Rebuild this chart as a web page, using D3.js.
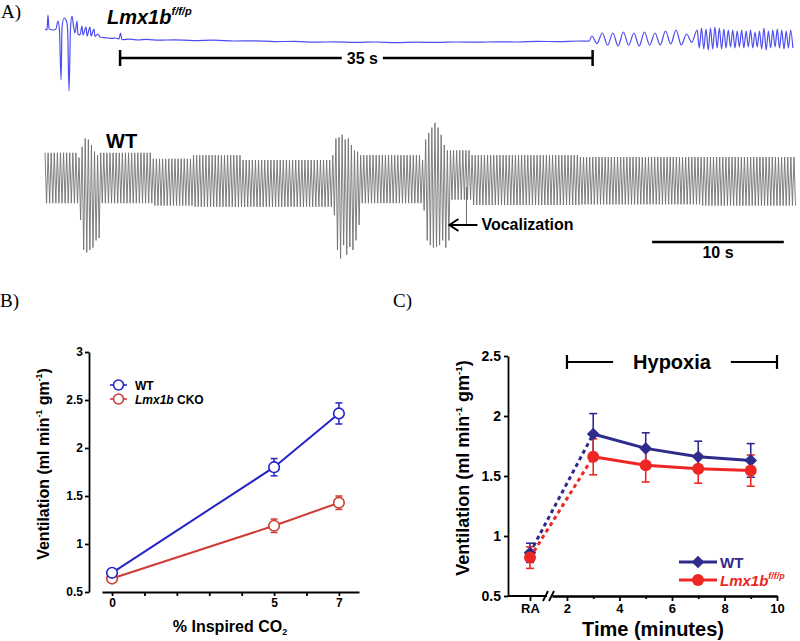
<!DOCTYPE html>
<html>
<head>
<meta charset="utf-8">
<script src="https://cdn.jsdelivr.net/npm/d3@7"></script>
<style>
body { margin: 0; background: #fff; }
svg { display: block; font-family: 'Liberation Sans', Arial, sans-serif; }
.axis path, .axis line { stroke: #000; stroke-width: 1.8; }
.axis text { font-family: 'Liberation Sans', Arial, sans-serif; font-weight: bold; fill: #000; }
.panelLabel { font-family: 'Liberation Serif', 'DejaVu Serif', serif; font-size: 19px; }
</style>
</head>
<body>
<svg width="800" height="641"></svg>
<script>
// ---------- panel A : pleth traces ----------
// WT trace, one entry per group of breaths: [breaths, peak, trough] (a.u.)
const wtBreath = 0.235   // s per breath
const wtSegments = [
  [11, 2.1, -2.1],
  [1, 1.7, -3.5], [1, 2.6, -6.0], [1, 3.3, -6.2], [1, 3.2, -6.0], [1, 2.75, -5.8], [1, 2.2, -5.2], [1, 1.9, -5.0],
  [17, 2.1, -2.1],
  [13, 1.6, -2.3],
  [16, 1.9, -2.4],
  [29, 1.5, -2.4],
  [1, 1.9, -3.1], [1, 3.3, -6.0], [1, 3.4, -6.7], [1, 3.6, -5.6], [1, 3.2, -6.4], [1, 3.3, -5.75], [1, 2.75, -6.0], [1, 2.3, -5.2], [1, 2.2, -3.9],
  [20, 1.9, -2.1],
  [1, 1.5, -2.7], [1, 3.2, -5.2], [1, 3.75, -5.6], [1, 4.2, -5.8], [1, 4.6, -5.75], [1, 4.2, -5.6], [1, 3.6, -5.2], [1, 2.75, -5.8], [1, 2.3, -5.2],
  [7, 2.3, -1.8],
  [35, 1.9, -2.25],
  [39, 1.75, -2.2],
  [31, 1.75, -2.3]
]
const wtScaleBar = [46.1, 56.1]   // 10 s
const vocalizationAt = 32.0

// Lmx1b trace: gasps + apnea as [time s, value a.u.]
const lmxApnea = [[0,2.75],[0.15,2.5],[0.22,6.25],[0.3,2.75],[0.59,2.5],[0.81,2.75],[0.96,4.75],[1.07,2.5],
  [1.19,-10],[1.26,3],[1.41,5.5],[1.56,5],[1.67,3],[1.78,-12.75],[1.89,3],[2.0,6],[2.11,3.5],[2.22,1.75],
  [2.37,4.75],[2.44,1.5],[2.59,1.25],[2.74,3.5],[2.81,1.25],[3.04,3.25],[3.11,1],[3.33,3.25],[3.41,1],
  [3.63,2.75],[3.7,0.9],[3.93,1.5],[4.07,0.75],[4.37,0.6],[4.67,0.5],[4.96,0.4],[5.26,0.5],[5.48,0.25],
  [5.59,1.75],[5.7,0.1],[6.3,0.2],[6.9,0],[7.5,0.15],[8.5,-0.05],[9.5,0.05],[11,-0.15],[12.5,-0.05],
  [14,-0.25],[15.5,-0.2],[17,-0.4],[18.5,-0.35],[20,-0.55],[21.5,-0.45],[23,-0.6],[24.5,-0.5],[26,-0.65],
  [27.5,-0.55],[29,-0.6],[30.5,-0.5],[32,-0.55],[33.5,-0.45],[35,-0.5],[36.5,-0.35],[38,-0.4],[39.5,-0.25],[40.3,-0.3]]
const lmxOscStart = 40.5
const lmxSlowPeriod = 0.78
const lmxSlowTop = [1.0, 1.75, 1.75, 2.0, 1.75, 2.0, 1.75, 2.25, 2.5, 1.5]
const lmxSlowBottom = [-0.9, -1.3, -1.5, -1.3, -1.5, -1.3, -1.25, -1.0, -1.25, -0.6]
const lmxFastPeriod = 0.33
const lmxFastTop = [2.5, 3.0, 2.75, 3.0, 3.25, 3.0, 2.75, 2.5, 2.5, 2.25, 2.5, 2.25, 2.5, 2.0, 2.25, 3.0, 2.25, 2.5, 2.75, 2.5, 2.25, 2.5]
const lmxFastBottom = [-2.0, -2.25, -2.5, -2.25, -2.0, -2.25, -2.0, -1.75, -2.0, -1.75, -2.0, -1.75, -2.0, -1.75, -2.25, -2.5, -2.0, -1.75, -2.0, -2.25, -2.0, -2.0]
const lmxScaleBar = [5.56, 40.56]  // 35 s

// ---------- panel B : CO2 response ----------
const co2Levels = [0, 5, 7]
const bWT = [0.70, 1.80, 2.36]
const bWTerr = [0.02, 0.09, 0.11]
const bCKO = [0.64, 1.19, 1.43]
const bCKOerr = [0.02, 0.07, 0.07]
const bYTicks = [0.5, 1, 1.5, 2, 2.5, 3]
const bXTicks = [0, 1, 2, 3, 4, 5, 6, 7]
const bXLabels = [0, 5, 7]

// ---------- panel C : hypoxia ----------
const hypTimes = [3, 5, 7, 9]
const cWT = [1.85, 1.73, 1.66, 1.63]
const cWTerr = [0.17, 0.13, 0.13, 0.14]
const cWTra = 0.86, cWTraErr = 0.08
const cLmx = [1.66, 1.59, 1.56, 1.545]
const cLmxErr = [0.15, 0.14, 0.12, 0.13]
const cLmxRa = 0.82, cLmxRaErr = 0.09
const cYTicks = [0.5, 1, 1.5, 2, 2.5]
const cXTicks = [2, 4, 6, 8, 10]
const cXMinor = [3, 5, 7, 9]
const hypoxiaRange = [2, 10]

const navy = '#2e2b8c'
const redC = '#ee2724'
const blueB = '#2424c6'
const redB = '#cf3b35'

let svg = d3.select('svg')

function dibujarA(){
    svg.append('text').attr('class','panelLabel').attr('x', 1).attr('y', 18).text('A)')

    // Lmx1b trace
    let xL = d3.scaleLinear().domain([0, 55.7]).range([45, 797])
    let yL = d3.scaleLinear().domain([-13, 5]).range([92, 20])
    let pts = lmxApnea.slice()
    let t = lmxOscStart
    lmxSlowTop.forEach((top, i) => {
        pts.push([t, top]); pts.push([t + lmxSlowPeriod/2, lmxSlowBottom[i]]); t += lmxSlowPeriod
    })
    lmxFastTop.forEach((top, i) => {
        pts.push([t, top]); pts.push([t + lmxFastPeriod/2, lmxFastBottom[i]]); t += lmxFastPeriod
    })
    svg.append('path')
       .attr('d', d3.line().x(d => xL(d[0])).y(d => yL(d[1])).curve(d3.curveMonotoneX)(pts))
       .attr('fill','none').attr('stroke','#4d4df2').attr('stroke-width', 1.2)

    let lt = svg.append('text').attr('x', 107).attr('y', 24)
        .attr('font-size', 20).attr('font-weight','bold').attr('font-style','italic')
    lt.append('tspan').text('Lmx1b')
    lt.append('tspan').attr('font-size', 11).attr('dy', -9).text('f/f/p')

    // 35 s bar
    let b0 = xL(lmxScaleBar[0]), b1 = xL(lmxScaleBar[1]), by = 58
    let txt35 = svg.append('text').attr('x', (b0+b1)/2 + 6).attr('y', by + 6)
        .attr('text-anchor','middle').attr('font-size', 16).attr('font-weight','bold').text('35 s')
    let half = txt35.node().getComputedTextLength()/2 + 5
    let bar = svg.append('g').attr('stroke','#000').attr('stroke-width', 2.5)
    bar.append('line').attr('x1', b0).attr('x2', (b0+b1)/2 + 6 - half).attr('y1', by).attr('y2', by)
    bar.append('line').attr('x1', (b0+b1)/2 + 6 + half).attr('x2', b1).attr('y1', by).attr('y2', by)
    bar.append('line').attr('x1', b0).attr('x2', b0).attr('y1', by-8).attr('y2', by+8)
    bar.append('line').attr('x1', b1).attr('x2', b1).attr('y1', by-8).attr('y2', by+8)

    // WT trace
    let xW = d3.scaleLinear().domain([0, 57.1]).range([45, 797])
    let yW = d3.scaleLinear().domain([-8, 5]).range([274, 118])
    let wpts = []
    t = 0
    wtSegments.forEach(s => {
        for (let i = 0; i < s[0]; i++){
            wpts.push([t, s[1]]); wpts.push([t + wtBreath/2, s[2]]); t += wtBreath
        }
    })
    svg.append('path')
       .attr('d', d3.line().x(d => xW(d[0])).y(d => yW(d[1]))(wpts))
       .attr('fill','none').attr('stroke','#707070').attr('stroke-width', 0.9)

    svg.append('text').attr('x', 106).attr('y', 148)
       .attr('font-size', 20).attr('font-weight','bold').text('WT')

    // vocalization arrow
    let vx = xW(vocalizationAt), ay = 225
    svg.append('line').attr('x1', vx).attr('x2', vx).attr('y1', 187).attr('y2', ay)
       .attr('stroke','#666').attr('stroke-width', 1)
    svg.append('line').attr('x1', vx - 17).attr('x2', vx + 11).attr('y1', ay).attr('y2', ay)
       .attr('stroke','#000').attr('stroke-width', 2)
    svg.append('path').attr('d', `M${vx-8},${ay-6}L${vx-17},${ay}L${vx-8},${ay+6}`)
       .attr('fill','none').attr('stroke','#000').attr('stroke-width', 2)
    svg.append('text').attr('x', vx + 15).attr('y', ay + 5)
       .attr('font-size', 16).attr('font-weight','bold').text('Vocalization')

    // 10 s bar
    svg.append('line').attr('x1', xW(wtScaleBar[0])).attr('x2', xW(wtScaleBar[1]))
       .attr('y1', 242).attr('y2', 242).attr('stroke','#000').attr('stroke-width', 2.5)
    svg.append('text').attr('x', (xW(wtScaleBar[0]) + xW(wtScaleBar[1]))/2).attr('y', 258)
       .attr('text-anchor','middle').attr('font-size', 16).attr('font-weight','bold').text('10 s')
}

function ventLabel(sel){
    sel.append('tspan').text('Ventilation (ml min')
    sel.append('tspan').attr('dy', -7).attr('font-size','0.55em').text('-1')
    sel.append('tspan').attr('dy', 7).text(' gm')
    sel.append('tspan').attr('dy', -7).attr('font-size','0.55em').text('-1')
    sel.append('tspan').attr('dy', 7).text(')')
}

function errorBars(g, xs, vals, errs, y, color, cap, w){
    let eb = g.append('g').attr('stroke', color).attr('stroke-width', w)
    vals.forEach((v, i) => {
        let x = xs[i]
        eb.append('line').attr('x1', x).attr('x2', x).attr('y1', y(v - errs[i])).attr('y2', y(v + errs[i]))
        eb.append('line').attr('x1', x - cap).attr('x2', x + cap).attr('y1', y(v - errs[i])).attr('y2', y(v - errs[i]))
        eb.append('line').attr('x1', x - cap).attr('x2', x + cap).attr('y1', y(v + errs[i])).attr('y2', y(v + errs[i]))
    })
}

function dibujarB(){
    svg.append('text').attr('class','panelLabel').attr('x', 0).attr('y', 307).text('B)')

    let x = d3.scaleLinear().domain([-0.31, 7.62]).range([102, 359])
    let y = d3.scaleLinear().domain([0.5, 3]).range([592, 352])

    svg.append('g').attr('class','axis').attr('transform','translate(89,0)')
       .call(d3.axisLeft(y).tickValues(bYTicks).tickSize(4).tickPadding(2).tickSizeOuter(0).tickFormat(d => d))
       .selectAll('text').attr('font-size', 12)
    svg.append('g').attr('class','axis').attr('transform','translate(0,592)')
       .call(d3.axisBottom(x).tickValues(bXTicks).tickSize(4).tickPadding(2).tickSizeOuter(0)
             .tickFormat(d => bXLabels.includes(d) ? d : ''))
       .selectAll('text').attr('font-size', 12)

    let xs = co2Levels.map(d => x(d))
    let g = svg.append('g')
    let series = [[bWT, bWTerr, blueB], [bCKO, bCKOerr, redB]]
    series.forEach(s => errorBars(g, xs, s[0], s[1], y, s[2], 3.5, 1.5))
    series.forEach(s => {
        g.append('path').attr('d', d3.line().x((d, i) => xs[i]).y(d => y(d))(s[0]))
         .attr('fill','none').attr('stroke', s[2]).attr('stroke-width', 2)
    })
    series.slice().reverse().forEach(s => {
        g.selectAll(null).data(s[0]).enter().append('circle')
         .attr('cx', (d, i) => xs[i]).attr('cy', d => y(d)).attr('r', 5.3)
         .attr('fill','#fff').attr('stroke', s[2]).attr('stroke-width', 1.6)
    })

    // legend
    let leg = [['WT', blueB, 385], ['CKO', redB, 399]]
    leg.forEach(l => {
        svg.append('line').attr('x1', 110).attr('x2', 127).attr('y1', l[2]).attr('y2', l[2])
           .attr('stroke', l[1]).attr('stroke-width', 1.6)
        svg.append('circle').attr('cx', 118.5).attr('cy', l[2]).attr('r', 5)
           .attr('fill','#fff').attr('stroke', l[1]).attr('stroke-width', 1.6)
        let t = svg.append('text').attr('x', 135).attr('y', l[2] + 4.5)
           .attr('font-size', 12).attr('font-weight','bold')
        if (l[0] === 'WT') t.text('WT')
        else { t.append('tspan').attr('font-style','italic').text('Lmx1b'); t.append('tspan').text(' CKO') }
    })

    let yl = svg.append('text').attr('transform','translate(49,464) rotate(-90)')
        .attr('text-anchor','middle').attr('font-size', 16).attr('font-weight','bold')
    ventLabel(yl)

    let xl = svg.append('text').attr('x', 230).attr('y', 632).attr('text-anchor','middle')
        .attr('font-size', 16).attr('font-weight','bold')
    xl.append('tspan').text('% Inspired CO')
    xl.append('tspan').attr('font-size', 9).attr('dy', 3).text('2')
}

function dibujarC(){
    svg.append('text').attr('class','panelLabel').attr('x', 393).attr('y', 307).text('C)')

    let x = d3.scaleLinear().domain([1.43, 10]).range([552, 777])
    let ra = d3.scalePoint().domain(['RA']).range([508, 552])
    let y = d3.scaleLinear().domain([0.5, 2.5]).range([596, 356])

    svg.append('g').attr('class','axis').attr('transform','translate(508,0)')
       .call(d3.axisLeft(y).tickValues(cYTicks).tickSize(4).tickPadding(3).tickSizeOuter(0).tickFormat(d => d))
       .selectAll('text').attr('font-size', 14)
    svg.append('g').attr('class','axis').attr('transform','translate(0,596)')
       .call(d3.axisBottom(x).tickValues(cXTicks).tickSize(5).tickPadding(3).tickSizeOuter(0))
       .selectAll('text').attr('font-size', 13)
    svg.append('g').attr('class','axis').attr('transform','translate(0,596)')
       .call(d3.axisBottom(x).tickValues(cXMinor).tickSize(3).tickSizeOuter(0).tickFormat(''))
    let raAx = svg.append('g').attr('class','axis').attr('transform','translate(0,596)')
       .call(d3.axisBottom(ra).tickSize(5).tickPadding(3).tickSizeOuter(0))
    raAx.selectAll('text').attr('font-size', 13)
    raAx.select('.domain').remove()
    raAx.append('line').attr('x1', 508).attr('x2', 547).attr('y1', 0).attr('y2', 0)
    // axis break
    raAx.append('line').attr('x1', 543).attr('x2', 548).attr('y1', 5).attr('y2', -5)
    raAx.append('line').attr('x1', 549).attr('x2', 554).attr('y1', 5).attr('y2', -5)

    // hypoxia bracket
    let h0 = x(hypoxiaRange[0]), h1 = x(hypoxiaRange[1]), hy = 362
    let ht = svg.append('text').attr('x', (h0+h1)/2).attr('y', hy + 7).attr('text-anchor','middle')
        .attr('font-size', 20).attr('font-weight','bold').text('Hypoxia')
    let hw = ht.node().getComputedTextLength()/2 + 20
    let hb = svg.append('g').attr('stroke','#000').attr('stroke-width', 2.2)
    hb.append('line').attr('x1', h0).attr('x2', (h0+h1)/2 - hw).attr('y1', hy).attr('y2', hy)
    hb.append('line').attr('x1', (h0+h1)/2 + hw).attr('x2', h1).attr('y1', hy).attr('y2', hy)
    hb.append('line').attr('x1', h0).attr('x2', h0).attr('y1', hy-7).attr('y2', hy+7)
    hb.append('line').attr('x1', h1).attr('x2', h1).attr('y1', hy-7).attr('y2', hy+7)

    let xr = ra('RA')
    let xs = hypTimes.map(d => x(d))
    let g = svg.append('g')
    let series = [
        { v: cWT, e: cWTerr, ra: cWTra, raE: cWTraErr, c: navy, m: 'diamond' },
        { v: cLmx, e: cLmxErr, ra: cLmxRa, raE: cLmxRaErr, c: redC, m: 'circle' }
    ]
    series.forEach(s => errorBars(g, [xr].concat(xs), [s.ra].concat(s.v), [s.raE].concat(s.e), y, s.c, 4, 1.6))
    series.forEach(s => {
        g.append('line').attr('x1', xr).attr('x2', xs[0]).attr('y1', y(s.ra)).attr('y2', y(s.v[0]))
         .attr('stroke', s.c).attr('stroke-width', 3).attr('stroke-dasharray','4,3.5')
        g.append('path').attr('d', d3.line().x((d, i) => xs[i]).y(d => y(d))(s.v))
         .attr('fill','none').attr('stroke', s.c).attr('stroke-width', 3)
        let all = [[xr, s.ra]].concat(s.v.map((v, i) => [xs[i], v]))
        all.forEach(p => {
            if (s.m === 'circle') g.append('circle').attr('cx', p[0]).attr('cy', y(p[1])).attr('r', 6).attr('fill', s.c)
            else g.append('path').attr('d', d3.symbol(d3.symbolSquare, 80)())
                  .attr('transform', `translate(${p[0]},${y(p[1])}) rotate(45)`).attr('fill', s.c)
        })
    })

    // legend
    svg.append('line').attr('x1', 679).attr('x2', 717).attr('y1', 562).attr('y2', 562).attr('stroke', navy).attr('stroke-width', 3)
    svg.append('path').attr('d', d3.symbol(d3.symbolSquare, 80)()).attr('transform','translate(698,562) rotate(45)').attr('fill', navy)
    svg.append('text').attr('x', 720).attr('y', 568).attr('font-size', 15).attr('font-weight','bold').attr('fill', navy).text('WT')
    svg.append('line').attr('x1', 679).attr('x2', 717).attr('y1', 580).attr('y2', 580).attr('stroke', redC).attr('stroke-width', 3)
    svg.append('circle').attr('cx', 698).attr('cy', 580).attr('r', 6).attr('fill', redC)
    let lt = svg.append('text').attr('x', 720).attr('y', 586).attr('font-size', 15)
        .attr('font-weight','bold').attr('font-style','italic').attr('fill', redC)
    lt.append('tspan').text('Lmx1b')
    lt.append('tspan').attr('font-size', 9).attr('dy', -7).text('f/f/p')

    let yl = svg.append('text').attr('transform','translate(469,468) rotate(-90)')
        .attr('text-anchor','middle').attr('font-size', 18).attr('font-weight','bold')
    ventLabel(yl)

    svg.append('text').attr('x', 653).attr('y', 636).attr('text-anchor','middle')
       .attr('font-size', 20).attr('font-weight','bold').text('Time (minutes)')
}

dibujarA()
dibujarB()
dibujarC()
</script>
</body>
</html>
